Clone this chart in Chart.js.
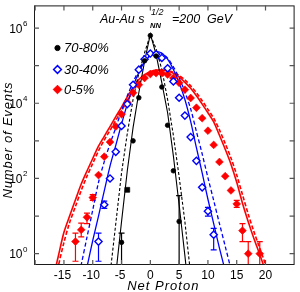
<!DOCTYPE html>
<html><head><meta charset="utf-8">
<script src="https://cdn.jsdelivr.net/npm/chart.js@4.4.1/dist/chart.umd.min.js"></script>
<style>html,body{margin:0;padding:0;background:#fff;}canvas{display:block;}</style>
</head><body>
<canvas id="c" width="300" height="292" style="width:300px;height:292px"></canvas>
<script>
// ---------------- data ----------------
const xTickValues = [-20, -15, -10, -5, 0, 5, 10, 15, 20];
const xTickLabels = ["-15", "-10", "-5", "0", "5", "10", "15", "20"];
const xTickLabelValues = [-15, -10, -5, 0, 5, 10, 15, 20];
const yTickValues = [1, 10, 100, 1e3, 1e4, 1e5, 1e6];
const yLabelExponents = [0, 2, 4, 6];

const seriesNames = ["70-80%", "30-40%", "0-5%"];

// 70-80% (black)
const periX = [-5, -4, -3, -2, -1, 0, 1, 2, 3, 4, 5];
const periY = [2.0, 50, 1000, 1.4e4, 1.35e5, 6.3e5, 1.8e5, 2.7e4, 2600, 160, 7.2];
const periLo = [0.3, null, null, null, null, null, null, null, null, null, 0.3];
const periHi = [3.5, null, null, null, null, null, null, null, null, null, 35];
const periShape = ["circle", "rect", "circle", "circle", "circle", "circle", "circle", "circle", "circle", "circle", "circle"];

// 30-40% (blue)
const midX = [-9, -8, -7, -6, -5, -4, -3, -2, -1, 0, 1, 2, 3, 4, 5, 6, 7, 8, 9, 10, 11];
const midY = [2.1, 20, 100, 510, 2500, 9500, 3.1e4, 7.8e4, 1.48e5, 2.1e5, 2.0e5, 1.6e5, 8.5e4, 3.8e4, 1.4e4, 4700, 1260, 295, 58, 13.5, 3.2];
const midLo = [0.63, 16, null, null, null, null, null, null, null, null, null, null, null, null, null, null, null, null, null, 10, 1.26];
const midHi = [3.5, 25, null, null, null, null, null, null, null, null, null, null, null, null, null, null, null, null, null, 17, 4.7];

// 0-5% (red)
const centX = [-13, -12, -11, -10, -9, -8, -7, -6, -5, -4, -3, -2, -1, 0, 1, 2, 3, 4, 5, 6, 7, 8, 9, 10, 11, 12, 13, 14, 15, 16, 17, 19];
const centY = [2.1, 4.3, 9.3, 31, 123, 380, 930, 2400, 5100, 1.05e4, 1.9e4, 3.1e4, 4.7e4, 6.0e4, 6.3e4, 6.3e4, 5.8e4, 4.7e4, 3.5e4, 2.3e4, 1.38e4, 7600, 4000, 1860, 780, 275, 115, 48, 21, 4.1, 1.0, 1.0];
const centLo = [0.63, 2.8, 6.3, 26, null, null, null, null, null, null, null, null, null, null, null, null, null, null, null, null, null, null, null, null, null, null, null, null, 17, 2.1, 0.3, 0.3];
const centHi = [3.5, 6.5, 12, 37, null, null, null, null, null, null, null, null, null, null, null, null, null, null, null, null, null, null, null, null, null, null, null, null, 26, 6.3, 2.1, 2.1];

// model curves
const periSolidX = [-7, -6, -5, -4, -3, -2, -1, 0, 1, 2, 3, 4, 5, 6, 7];
const periSolidY = [0.0126, 0.28, 7.1, 160, 2240, 1.9e4, 1.3e5, 6.9e5, 2.0e5, 3.5e4, 5600, 400, 20, 0.89, 0.032];
const periDashX = [-8, -7, -6, -5, -4, -3, -2, -1, 0, 1, 2, 3, 4, 5, 6, 7, 8];
const periDashY = [0.0126, 0.28, 6.3, 140, 1580, 1.26e4, 6.3e4, 2.2e5, 6.6e5, 2.8e5, 7.9e4, 1.26e4, 1400, 112, 7.1, 0.28, 0.0126];

const midSolidX = [-12, -11, -10, -9, -8, -7, -6, -5, -4, -3, -2, -1, 0, 1, 2, 3, 4, 5, 6, 7, 8, 9, 10, 11, 12, 13];
const midSolidY = [0.079, 0.44, 2.24, 10, 47, 214, 760, 2800, 9500, 2.8e4, 6.6e4, 1.26e5, 1.86e5, 2.34e5, 2.14e5, 1.48e5, 7.9e4, 3.5e4, 1.26e4, 3300, 660, 141, 28, 6.3, 1.41, 0.35];
const midDashX = [-13, -12, -11, -10, -9, -8, -7, -6, -5, -4, -3, -2, -1, 0, 1, 2, 3, 4, 5, 6, 7, 8, 9, 10, 11, 12, 13, 14];
const midDashY = [0.1, 0.51, 2.75, 14.5, 79, 280, 830, 2240, 6300, 1.58e4, 3.6e4, 7.6e4, 1.38e5, 1.9e5, 2.3e5, 2.14e5, 1.58e5, 9.3e4, 4.7e4, 2.0e4, 7100, 1780, 450, 105, 26, 6.3, 1.58, 0.39];

const centSolidX = [-18, -17, -16, -15, -14, -13, -12, -11, -10, -9, -8, -7, -6, -5, -4, -3, -2, -1, 0, 1, 2, 3, 4, 5, 6, 7, 8, 9, 10, 11, 12, 13, 14, 15, 16, 17, 18, 19, 20, 21];
const centSolidY = [0.032, 0.18, 0.83, 3.7, 10.2, 27, 71, 158, 340, 720, 1320, 2400, 4400, 7900, 1.48e4, 2.6e4, 4.3e4, 5.8e4, 6.9e4, 7.6e4, 7.6e4, 7.2e4, 6.3e4, 5.0e4, 3.6e4, 2.5e4, 1.58e4, 9500, 5600, 3200, 1410, 600, 240, 79, 22, 7.1, 2.5, 0.95, 0.35, 0.126];
const centDashX = [-17, -16, -15, -14, -13, -12, -11, -10, -9, -8, -7, -6, -5, -4, -3, -2, -1, 0, 1, 2, 3, 4, 5, 6, 7, 8, 9, 10, 11, 12, 13, 14, 15, 16, 17, 18, 19, 20, 21];
const centDashY = [0.089, 0.45, 2.0, 6.8, 18, 48, 115, 250, 540, 1050, 1900, 3500, 6300, 1.15e4, 2.1e4, 3.5e4, 5.1e4, 6.5e4, 7.2e4, 7.6e4, 7.4e4, 6.6e4, 5.5e4, 4.2e4, 2.9e4, 1.9e4, 1.17e4, 6900, 4000, 1950, 850, 350, 123, 37, 11.2, 3.8, 1.41, 0.52, 0.19];

// ---------------- build ----------------
const BLACK = "#000000", BLUE = "#0000ff", RED = "#ff0000";
const zip = (xs, ys) => xs.map((v, i) => ({x: v, y: ys[i]}));
const FONT = "'Liberation Sans', Arial, Helvetica, sans-serif";

const markerSets = [
  {label: seriesNames[0], data: zip(periX, periY), showLine: false, pointStyle: periShape,
   pointRadius: periShape.map(s => s === "rect" ? 3.4 : 2.3), backgroundColor: BLACK, borderColor: BLACK, borderWidth: 0.8,
   errLo: periLo, errHi: periHi, errColor: BLACK},
  {label: seriesNames[1], data: zip(midX, midY), showLine: false, pointStyle: "rectRot",
   pointRadius: 3.6, backgroundColor: "#ffffff", borderColor: BLUE, borderWidth: 1.4,
   errLo: midLo, errHi: midHi, errColor: BLUE},
  {label: seriesNames[2], data: zip(centX, centY), showLine: false, pointStyle: "rectRot",
   pointRadius: 3.9, backgroundColor: RED, borderColor: RED, borderWidth: 0.6,
   errLo: centLo, errHi: centHi, errColor: RED}
];
const curve = (xs, ys, color, dash, w, tension) => ({
  data: zip(xs, ys), showLine: true, pointRadius: 0, borderColor: color, borderWidth: w,
  borderDash: dash, tension: tension, fill: false, clip: 0
});
const curveSets = [
  curve(periSolidX, periSolidY, BLACK, [], 1.1, 0),
  curve(periDashX, periDashY, BLACK, [3, 2], 1.1, 0),
  curve(midSolidX, midSolidY, BLUE, [], 1.3, 0.3),
  curve(midDashX, midDashY, BLUE, [4, 2.5], 1.3, 0.3),
  curve(centSolidX, centSolidY, RED, [], 1.6, 0.3),
  curve(centDashX, centDashY, RED, [4, 2], 1.6, 0.3)
];

function drawMarker(ctx, style, x, y, r, fill, stroke, lw) {
  ctx.beginPath();
  if (style === "circle") ctx.arc(x, y, r, 0, Math.PI * 2);
  else { ctx.moveTo(x - r, y); ctx.lineTo(x, y - r); ctx.lineTo(x + r, y); ctx.lineTo(x, y + r); ctx.closePath(); }
  ctx.fillStyle = fill; ctx.fill();
  ctx.lineWidth = lw; ctx.strokeStyle = stroke; ctx.stroke();
}

const deco = {
  id: "deco",
  beforeDatasetsDraw(chart) {
    const {ctx, chartArea: a, scales: {x, y}} = chart;
    ctx.save();
    ctx.beginPath(); ctx.rect(a.left, a.top, a.right - a.left, a.bottom - a.top); ctx.clip();
    markerSets.forEach(ds => {
      ctx.strokeStyle = ds.errColor; ctx.lineWidth = 1.2;
      ds.data.forEach((p, i) => {
        const lo = ds.errLo[i], hi = ds.errHi[i];
        if (lo == null || hi == null) return;
        const px = x.getPixelForValue(p.x);
        const pl = y.getPixelForValue(lo), ph = y.getPixelForValue(hi);
        ctx.beginPath();
        ctx.moveTo(px, pl); ctx.lineTo(px, ph);
        ctx.moveTo(px - 3, ph); ctx.lineTo(px + 3, ph);
        ctx.moveTo(px - 3, pl); ctx.lineTo(px + 3, pl);
        ctx.stroke();
      });
    });
    ctx.restore();
  },
  afterDraw(chart) {
    const {ctx, chartArea: a, scales: {x, y}} = chart;
    ctx.save();
    // frame
    ctx.strokeStyle = "#1a1a1a"; ctx.lineWidth = 1;
    ctx.strokeRect(a.left + 0.5, a.top + 0.5, a.right - a.left - 1, a.bottom - a.top - 1);
    // inward ticks
    ctx.strokeStyle = "#555"; ctx.lineWidth = 1.2;
    ctx.beginPath();
    xTickValues.forEach(v => {
      const px = x.getPixelForValue(v);
      if (px < a.left + 1) return;
      ctx.moveTo(px, a.bottom); ctx.lineTo(px, a.bottom - 5);
      ctx.moveTo(px, a.top); ctx.lineTo(px, a.top + 5);
    });
    yTickValues.forEach(v => {
      const py = y.getPixelForValue(v);
      ctx.moveTo(a.left, py); ctx.lineTo(a.left + 5, py);
      ctx.moveTo(a.right, py); ctx.lineTo(a.right - 5, py);
    });
    ctx.stroke();
    // x tick labels
    ctx.fillStyle = "#000";
    ctx.font = "12px " + FONT; ctx.textAlign = "center"; ctx.textBaseline = "alphabetic";
    xTickLabels.forEach((t, i) => {
      let px = x.getPixelForValue(xTickLabelValues[i]);
      if (t.startsWith("-")) px -= 1.5;
      ctx.fillText(t, px, a.bottom + 14);
    });
    // y tick labels 10^n
    yLabelExponents.forEach(e => {
      const py = y.getPixelForValue(Math.pow(10, e));
      ctx.font = "12px " + FONT; ctx.textAlign = "right";
      ctx.fillText("10", 22.5, py + 4.5);
      ctx.font = "8px " + FONT; ctx.textAlign = "left";
      ctx.fillText(String(e), 23, py - 2);
    });
    // axis titles
    ctx.font = "italic 13px " + FONT;
    ctx.letterSpacing = "1px";
    ctx.textAlign = "center";
    ctx.fillText("Net Proton", (a.left + a.right) / 2 - 1, 290);
    ctx.save();
    ctx.translate(12, 140); ctx.rotate(-Math.PI / 2);
    ctx.letterSpacing = "0.8px";
    ctx.fillText("Number of Events", 0, 0);
    ctx.restore();
    ctx.letterSpacing = "0px";
    // system label
    ctx.textAlign = "left";
    ctx.font = "italic 12.5px " + FONT;
    ctx.fillText("Au-Au s", 100, 23);
    ctx.font = "italic 9px " + FONT;
    ctx.fillText("1/2", 151, 15);
    ctx.font = "italic bold 7.5px " + FONT;
    ctx.fillText("NN", 150, 27.5);
    ctx.font = "italic 12.5px " + FONT;
    ctx.fillText("=200  GeV", 172, 23);
    // legend
    const legY = [48, 69.5, 89.5];
    drawMarker(ctx, "circle", 57.5, legY[0], 2.6, BLACK, BLACK, 1);
    drawMarker(ctx, "diamond", 57.5, legY[1], 3.9, "#fff", BLUE, 1.5);
    drawMarker(ctx, "diamond", 57.5, legY[2], 4.3, RED, RED, 1);
    ctx.font = "italic 13px " + FONT; ctx.fillStyle = "#000"; ctx.textBaseline = "middle";
    seriesNames.forEach((n, i) => ctx.fillText(n, 64, legY[i] + 0.5));
    ctx.restore();
  }
};

new Chart(document.getElementById("c"), {
  type: "scatter",
  data: {datasets: [...markerSets, ...curveSets]},
  options: {
    responsive: false, animation: false, devicePixelRatio: 1,
    layout: {padding: {top: 1, right: 2, left: 0, bottom: 0}},
    plugins: {legend: {display: false}, tooltip: {enabled: false}, title: {display: false}},
    scales: {
      x: {type: "linear", min: -20.2, max: 25.05, grid: {display: false}, border: {display: false},
          ticks: {display: false}, afterFit(s) { s.height = 27; }},
      y: {type: "logarithmic", min: 0.5, max: 4e6, grid: {display: false}, border: {display: false},
          ticks: {display: false}, afterFit(s) { s.width = 34; }}
    }
  },
  plugins: [deco]
});
</script>
</body></html>
